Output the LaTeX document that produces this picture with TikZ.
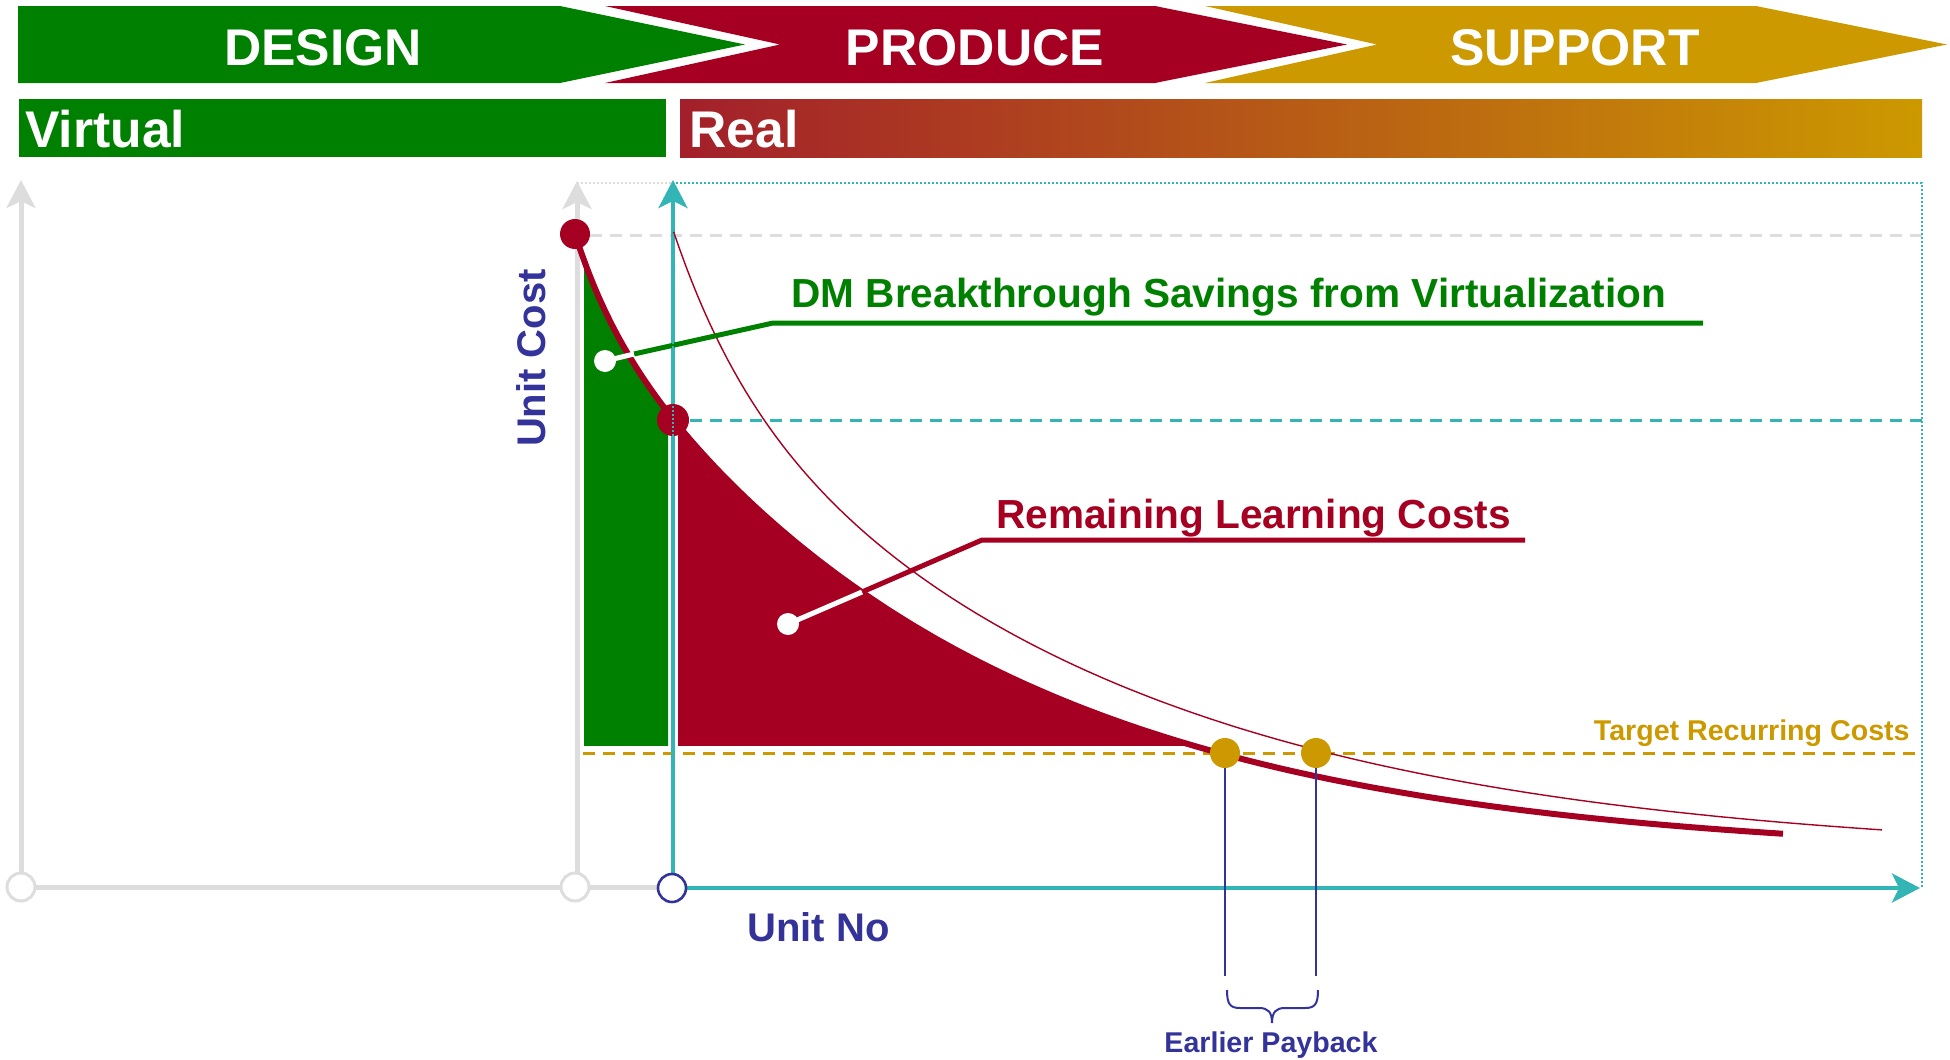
\documentclass[tikz,border=0pt]{standalone}
\usepackage{fontspec}
\setmainfont{Liberation Sans}
\usetikzlibrary{arrows.meta}
\definecolor{dgreen}{HTML}{008000}
\definecolor{dred}{HTML}{A50021}
\definecolor{gold}{HTML}{CC9900}
\definecolor{tealc}{HTML}{33B5B5}
\definecolor{navy}{HTML}{333399}
\definecolor{lgray}{HTML}{DDDDDD}
\definecolor{realred}{HTML}{A31F2B}
\begin{document}
\begin{tikzpicture}[x=0.5pt,y=-0.5pt,
  declare function={
    thickc(\t)=858-64*exp(-min(\t-575,400)/38)-560*exp(-(\t-575)/385);
    thinc(\t)=858-128*exp(-min(\t-673,600)/71)-500*exp(-(\t-673)/420);
  },
  hdr/.style={text=white,font=\bfseries\fontsize{25.8}{30}\selectfont,inner sep=0,anchor=base},
  lbl/.style={font=\bfseries\fontsize{20.3}{24}\selectfont,inner sep=0,anchor=base west},
  axlbl/.style={text=navy,font=\bfseries\fontsize{20}{24}\selectfont,inner sep=0},
  small/.style={font=\bfseries\fontsize{14.3}{17}\selectfont,inner sep=0},
  axisarrow/.style={-{Stealth[length=14pt,width=14.5pt,inset=3.5pt]}},
  dashline/.style={line width=1.5pt,dash pattern=on 6pt off 4pt},
  dotline/.style={line width=1pt,dash pattern=on 1pt off 1pt},
  leader/.style={line width=2.5pt},
  payline/.style={navy,line width=1pt}]
\useasboundingbox (0,0) rectangle (1950,1060);
% ---------- header chevrons ----------
\fill[dgreen] (18,6) -- (560,6) -- (745,44.5) -- (560,83) -- (18,83) -- cycle;
\fill[dred] (605,6) -- (1155,6) -- (1347,44.5) -- (1155,83) -- (605,83) -- (780,44.5) -- cycle;
\fill[gold] (1205,6) -- (1756,6) -- (1947,44.5) -- (1756,83) -- (1205,83) -- (1377,44.5) -- cycle;
\node[hdr] (design) at (323,65) {DESIGN};
\node[hdr] (produce) at (975,65) {PRODUCE};
\node[hdr] (support) at (1575,65) {SUPPORT};
% ---------- virtual / real bars ----------
\fill[dgreen] (19,99) rectangle (666,157);
\shade[left color=realred,right color=gold] (680,99) rectangle (1922,157);
\node[hdr,anchor=base west] (virtual) at (25,147) {Virtual};
\node[hdr,anchor=base west] (real) at (689,147) {Real};
% ---------- dashed reference lines ----------
\draw[lgray,dashline] (590,235) -- (1922,235);
\draw[tealc,dashline] (690,420) -- (1922,420);
\draw[gold,dashline] (583,753) -- (1922,753);
% ---------- filled areas ----------
\begin{scope}
\clip (584,0) rectangle (668,745);
\fill[dgreen] plot[domain=575:690,samples=60] (\x,{thickc(\x)}) -- (690,1000) -- (575,1000) -- cycle;
\end{scope}
\begin{scope}
\clip (678,0) rectangle (2000,745);
\fill[dred] plot[domain=670:1400,samples=150] (\x,{thickc(\x)}) -- (1400,1000) -- (670,1000) -- cycle;
\end{scope}
% ---------- axes ----------
\draw[lgray,line width=2.5pt] (21,887) -- (672,887);
\draw[lgray,line width=2.5pt,axisarrow] (21,887) -- (21,180);
\draw[lgray,line width=2.5pt,axisarrow] (577,887) -- (577,181);
\draw[lgray,dotline] (577,183) -- (673,183);
\draw[tealc,line width=2pt,axisarrow] (673,888) -- (673,180);
\draw[tealc,line width=2pt,axisarrow] (672,888) -- (1920,888);
% ---------- curves ----------
\draw[dred,line width=0.7pt] plot[domain=673:1882,samples=200] (\x,{thinc(\x)});
\draw[dred,line width=3pt] plot[domain=575:1783,samples=200] (\x,{thickc(\x)});
% ---------- leaders ----------
\coordinate (gdot) at (605,361);
\coordinate (gcross) at (634,354);
\coordinate (gknee) at (773,323);
\coordinate (gend) at (1703,323);
\draw[dgreen,leader] (gcross) -- (gknee) -- (gend);
\draw[white,leader] (gdot) -- (gcross);
\fill[white] (gdot) circle[radius=11];
\coordinate (rdot) at (788,624);
\coordinate (rcross) at (862,592);
\coordinate (rknee) at (982,540);
\coordinate (rend) at (1525,540);
\draw[dred,leader] (rcross) -- (rknee) -- (rend);
\draw[white,leader] (rdot) -- (rcross);
\fill[white] (rdot) circle[radius=11];
% ---------- payback ----------
\coordinate (pay1) at (1225,753);
\coordinate (pay2) at (1316,753);
\coordinate (pay1b) at (1225,976);
\coordinate (pay2b) at (1316,976);
\draw[payline] (pay1) -- (pay1b);
\draw[payline] (pay2) -- (pay2b);
\draw[navy,line width=1pt] (1227,990) .. controls (1227,1004) and (1230,1008) .. (1240,1008) -- (1259,1008) .. controls (1268,1008) and (1272,1012) .. (1272,1023) .. controls (1272,1012) and (1276,1008) .. (1285,1008) -- (1305,1008) .. controls (1315,1008) and (1318,1004) .. (1318,990);
% ---------- dots ----------
\fill[dred] (575,234) circle[radius=15];
\fill[dred] (673,420) circle[radius=16];
\fill[gold] (pay1) circle[radius=15];
\fill[gold] (pay2) circle[radius=15];
% ---------- dotted frame ----------
\draw[tealc,dotline] (673,888) -- (673,183) -- (1922,183) -- (1922,888);
% ---------- origin circles ----------
\draw[lgray,line width=1.5pt,fill=white] (21,887) circle[radius=14];
\draw[lgray,line width=1.5pt,fill=white] (575,887) circle[radius=14];
\draw[navy,line width=1.3pt,fill=white] (672,888) circle[radius=14];
% ---------- labels ----------
\node[lbl,text=dgreen] (dmtxt) at (791,307) {DM Breakthrough Savings from Virtualization};
\node[lbl,text=dred] (rlctxt) at (996,528) {Remaining Learning Costs};
\node[small,text=gold,anchor=base east] (trctxt) at (1910,740) {Target Recurring Costs};
\node[small,text=navy,anchor=base] (eptxt) at (1271,1052) {Earlier Payback};
\node[axlbl,anchor=base west] (unitno) at (747,941) {Unit No};
\node[axlbl,anchor=base,rotate=90] (unitcost) at (545,358) {Unit Cost};
\end{tikzpicture}
\end{document}
